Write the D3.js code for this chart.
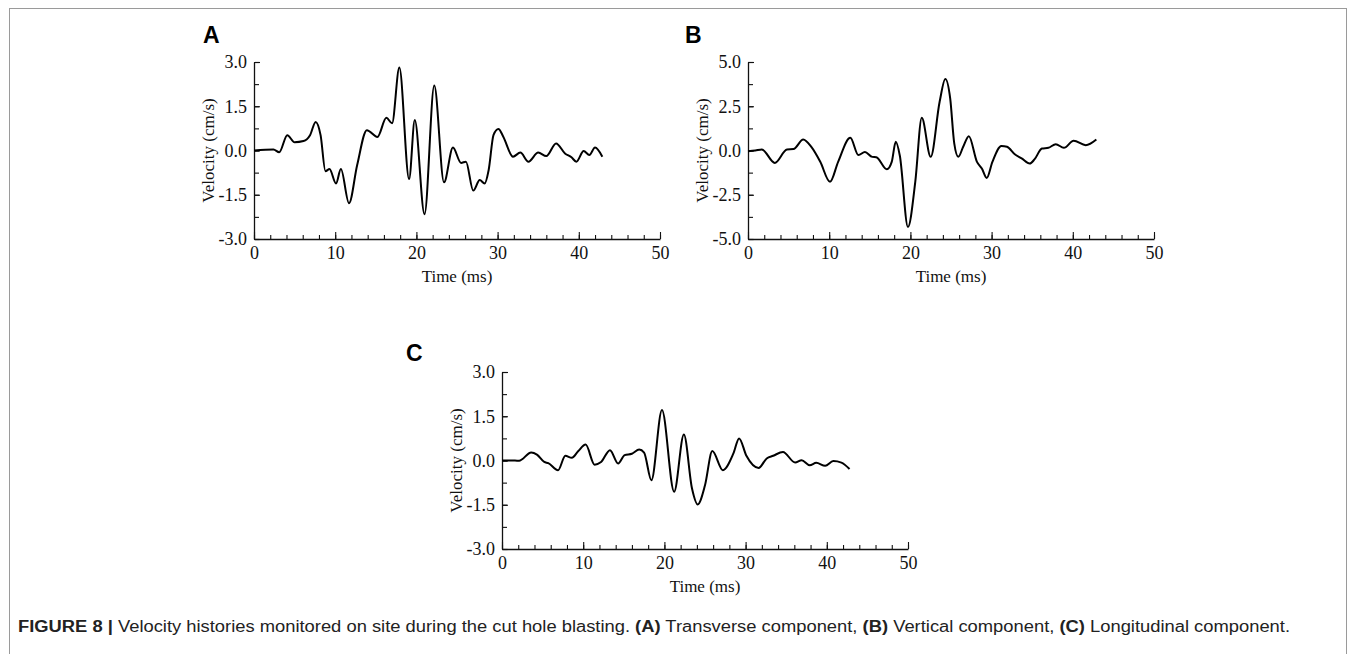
<!DOCTYPE html>
<html>
<head>
<meta charset="utf-8">
<script src="https://cdn.jsdelivr.net/npm/d3@7"></script>
<style>
  body { margin: 0; background: #fff; }
  svg { display: block; }
</style>
</head>
<body>
<svg id="fig" width="1355" height="654"></svg>
<script>
// velocity traces (time in ms, velocity in cm/s)
var timeA = [0, 2.4, 3.1, 4.1, 5.0, 6.1, 6.9, 7.6, 8.2, 8.8, 9.3, 10.1, 10.7, 11.7, 12.7, 13.9, 15.2, 16.3, 17.0, 17.9, 19.1, 19.8, 21.0, 22.2, 23.4, 24.5, 25.5, 26.1, 27.0, 27.8, 28.4, 28.9, 29.5, 30.1, 30.7, 31.9, 32.8, 33.8, 35.0, 36.0, 37.2, 38.3, 39.1, 39.7, 40.6, 41.3, 42.0, 42.9];
var velA = [0, 0.03, -0.06, 0.52, 0.28, 0.32, 0.52, 0.97, 0.52, -0.70, -0.63, -1.12, -0.63, -1.79, -0.5, 0.69, 0.46, 1.11, 0.92, 2.81, -0.97, 1.03, -2.16, 2.2, -1.08, 0.10, -0.42, -0.38, -1.36, -1.0, -1.12, -0.66, 0.53, 0.73, 0.47, -0.21, -0.07, -0.38, -0.07, -0.19, 0.24, -0.1, -0.23, -0.38, -0.02, -0.15, 0.1, -0.21];

var timeB = [0, 0.9, 1.7, 3.3, 4.8, 5.6, 6.8, 7.8, 8.9, 10.1, 11.1, 12.6, 13.6, 14.4, 15.3, 15.8, 17.1, 17.7, 18.2, 18.7, 19.7, 20.6, 21.4, 22.5, 23.6, 24.3, 24.9, 25.4, 25.9, 26.5, 27.2, 28.2, 28.8, 29.4, 30.1, 31.2, 31.9, 32.9, 33.7, 34.7, 35.3, 36.2, 37.0, 37.9, 38.9, 40.1, 41.6, 42.9];
var velB = [-0.04, 0, 0.06, -0.70, 0.06, 0.08, 0.62, 0.2, -0.64, -1.77, -0.64, 0.72, -0.26, -0.08, -0.36, -0.38, -1.06, -0.64, 0.49, -0.3, -4.32, -1.77, 1.85, -0.36, 2.75, 4.04, 2.94, 0.4, -0.36, 0.21, 0.81, -0.64, -1.02, -1.55, -0.64, 0.26, 0.21, -0.23, -0.45, -0.74, -0.49, 0.11, 0.15, 0.36, 0.15, 0.55, 0.30, 0.62];

var timeC = [0, 1.6, 2.1, 3.6, 4.3, 5.2, 5.7, 6.9, 7.8, 8.6, 9.4, 10.3, 11.4, 12.2, 13.3, 14.3, 15.1, 16.0, 16.9, 17.5, 18.4, 19.7, 21.2, 22.4, 23.4, 24.1, 25.0, 25.9, 27.2, 28.5, 29.2, 30.1, 31.6, 32.6, 33.4, 34.6, 36.1, 36.9, 37.9, 38.7, 39.8, 40.8, 41.8, 42.8];
var velC = [0, 0, -0.01, 0.27, 0.2, -0.05, -0.09, -0.33, 0.16, 0.09, 0.32, 0.54, -0.14, -0.05, 0.35, -0.10, 0.18, 0.23, 0.37, 0.27, -0.67, 1.71, -1.06, 0.88, -0.95, -1.49, -0.84, 0.32, -0.33, 0.24, 0.75, 0.16, -0.25, 0.07, 0.16, 0.29, -0.07, 0.01, -0.16, -0.08, -0.18, -0.02, -0.07, -0.29];

var xTicks = [0, 10, 20, 30, 40, 50];
var yTicks3 = [-3.0, -1.5, 0.0, 1.5, 3.0];
var yTicks5 = [-5.0, -2.5, 0.0, 2.5, 5.0];

var panels = [
  { letter: "A", time: timeA, vel: velA, yTicks: yTicks3, left: 254, top: 62, lx: -51, ly: -19 },
  { letter: "B", time: timeB, vel: velB, yTicks: yTicks5, left: 748, top: 62, lx: -63, ly: -19 },
  { letter: "C", time: timeC, vel: velC, yTicks: yTicks3, left: 502, top: 372, lx: -96, ly: -11 }
];

var plotW = 406, plotH = 177;
var serif = "'Liberation Serif', 'Times New Roman', serif";
var sans = "'Liberation Sans', Arial, sans-serif";

var svg = d3.select("#fig");

// outer frame of the figure
svg.append("rect")
  .attr("x", 9.5).attr("y", 8.5)
  .attr("width", 1337).attr("height", 700)
  .attr("fill", "none").attr("stroke", "#9a9a9a").attr("stroke-width", 1);

panels.forEach(function(p) {
  var yMax = p.yTicks[p.yTicks.length - 1];
  var x = d3.scaleLinear().domain([0, 50]).range([0, plotW]);
  var y = d3.scaleLinear().domain([-yMax, yMax]).range([plotH, 0]);

  var g = svg.append("g")
    .attr("transform", "translate(" + p.left + "," + p.top + ")");

  // minor ticks (every 2 ms, every half step on y)
  g.append("g")
    .attr("transform", "translate(0," + plotH + ")")
    .call(d3.axisBottom(x).tickValues(d3.range(0, 51, 2)).tickSize(-4).tickSizeOuter(0).tickFormat(""))
    .call(function(a) { a.select(".domain").remove(); });

  var step = (p.yTicks[1] - p.yTicks[0]) / 2;
  g.append("g")
    .call(d3.axisLeft(y).tickValues(d3.range(-yMax, yMax + step / 2, step)).tickSize(-5).tickSizeOuter(0).tickFormat(""))
    .call(function(a) { a.select(".domain").remove(); });

  // major ticks + labels
  var xa = g.append("g")
    .attr("transform", "translate(0," + plotH + ")")
    .call(d3.axisBottom(x).tickValues(xTicks).tickSize(-7).tickSizeOuter(0).tickPadding(7).tickFormat(d3.format("d")));
  xa.selectAll("text").attr("font-family", serif).attr("font-size", 18).attr("fill", "#111");

  var ya = g.append("g")
    .call(d3.axisLeft(y).tickValues(p.yTicks).tickSize(-6).tickSizeOuter(0).tickPadding(7).tickFormat(d3.format(".1f")));
  ya.selectAll("text").attr("font-family", serif).attr("font-size", 18).attr("fill", "#111")
    .text(function(d) { return d3.format(".1f")(d).replace("\u2212", "-"); });

  g.selectAll(".domain").attr("stroke", "#111").attr("stroke-width", 1.3);
  g.selectAll(".tick line").attr("stroke", "#111").attr("stroke-width", 1.1);

  // trace
  var line = d3.line()
    .x(function(d, i) { return x(p.time[i]); })
    .y(function(d) { return y(d); })
    .curve(d3.curveMonotoneX);

  g.append("path")
    .datum(p.vel)
    .attr("d", line)
    .attr("fill", "none")
    .attr("stroke", "#000")
    .attr("stroke-width", 2)
    .attr("stroke-linejoin", "round");

  // axis titles
  g.append("text")
    .attr("x", plotW / 2).attr("y", plotH + 43)
    .attr("text-anchor", "middle")
    .attr("font-family", serif).attr("font-size", 17).attr("fill", "#111")
    .text("Time (ms)");

  g.append("text")
    .attr("transform", "translate(" + (-40) + "," + (plotH / 2) + ") rotate(-90)")
    .attr("text-anchor", "middle")
    .attr("font-family", serif).attr("font-size", 17).attr("fill", "#111")
    .text("Velocity (cm/s)");

  // panel letter
  g.append("text")
    .attr("x", p.lx).attr("y", p.ly)
    .attr("font-family", sans).attr("font-weight", "bold").attr("font-size", 23)
    .attr("fill", "#000")
    .text(p.letter);
});

// caption
var cap = svg.append("text")
  .attr("x", 18).attr("y", 632)
  .attr("textLength", 1272).attr("lengthAdjust", "spacingAndGlyphs")
  .attr("font-family", sans).attr("font-size", 16).attr("fill", "#222");
cap.append("tspan").attr("font-weight", "bold").text("FIGURE 8 | ");
cap.append("tspan").text("Velocity histories monitored on site during the cut hole blasting. ");
cap.append("tspan").attr("font-weight", "bold").text("(A)");
cap.append("tspan").text(" Transverse component, ");
cap.append("tspan").attr("font-weight", "bold").text("(B)");
cap.append("tspan").text(" Vertical component, ");
cap.append("tspan").attr("font-weight", "bold").text("(C)");
cap.append("tspan").text(" Longitudinal component.");
</script>
</body>
</html>
